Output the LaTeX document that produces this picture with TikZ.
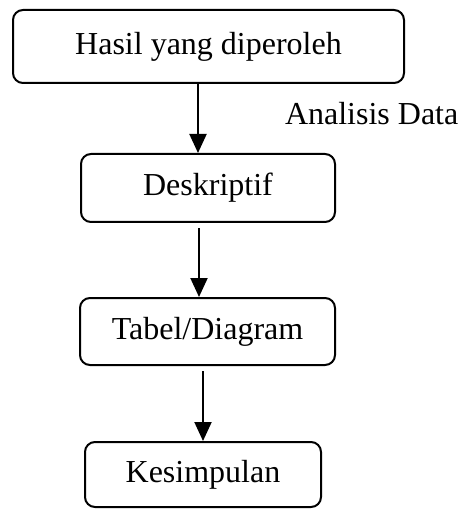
\documentclass[tikz,border=0pt]{standalone}
\usepackage{fontspec}
\setmainfont{Liberation Serif}
\usetikzlibrary{arrows.meta}
\begin{document}
\begin{tikzpicture}[x=1pt, y=-1pt, line width=2pt,
        main/.style = {draw, rounded corners=10pt, inner sep=0pt, font=\fontsize{32}{38}\selectfont},
        arr/.style = {-{Triangle[width=17pt,length=19pt]}}]
        \useasboundingbox (0,0) rectangle (458,510);
        \node[main, minimum width=391pt, minimum height=73pt] (hasil) at (208.5,46.5) {Hasil yang diperoleh};
        \node[main, minimum width=254pt, minimum height=68pt] (desk) at (208,188) {Deskriptif};
        \node[main, minimum width=255pt, minimum height=67pt] (tabel) at (207.5,331.5) {Tabel/Diagram};
        \node[main, minimum width=236pt, minimum height=65pt] (simpul) at (203,474.5) {Kesimpulan};

        % label analisis
        \node[anchor=base west, inner sep=0pt, font=\fontsize{32}{38}\selectfont] (analisis) at (284,125) {Analisis Data};

        % panah
        \draw[arr] ([xshift=-10.5pt]hasil.south) -- ([xshift=-10pt]desk.north);
        \draw[arr] ([xshift=-9pt]desk.south) ++(0,5) coordinate (d) -- ([xshift=-8.5pt]tabel.north);
        \draw[arr] ([xshift=-4.5pt]tabel.south) ++(0,5) coordinate (t) -- ([xshift=0pt]simpul.north);
    \end{tikzpicture}
\end{document}
